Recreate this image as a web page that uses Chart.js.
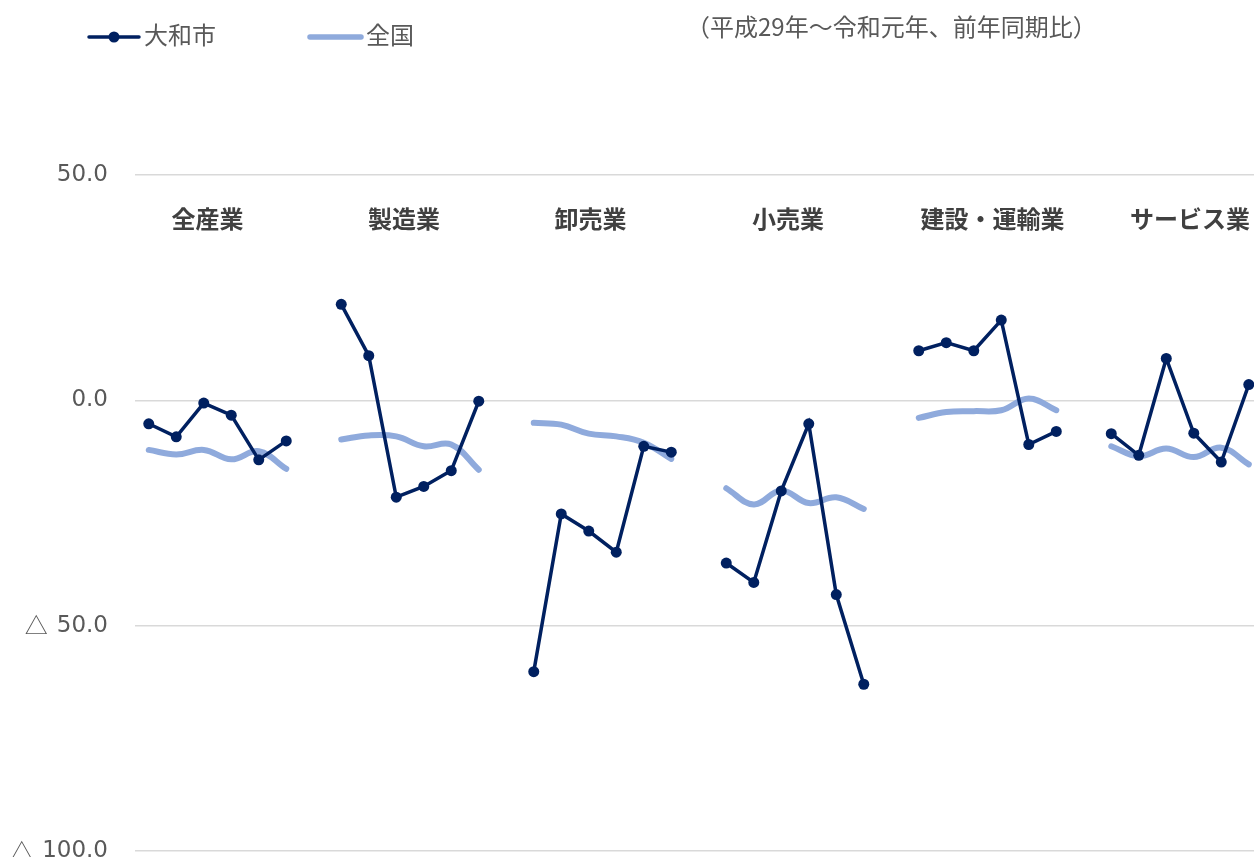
<!DOCTYPE html>
<html lang="ja">
<head>
<meta charset="utf-8">
<script src="https://cdn.jsdelivr.net/npm/chart.js@4/dist/chart.umd.min.js"></script>
<style>
    html, body { margin: 0; padding: 0; background: #fff; overflow: hidden; }
    #wrap { position: relative; width: 1254px; height: 857px; }
</style>
</head>
<body>
<div id="wrap"><canvas id="myChart"></canvas></div>
<script>
// categories
const groups = ["全産業", "製造業", "卸売業", "小売業", "建設・運輸業", "サービス業"];
const periods = ["H29上", "H29下", "H30上", "H30下", "R1上", "R1下"];

// 大和市 (per group)
const yamato = [
    [-5.2, -8.1, -0.6, -3.3, -13.2, -9.0],
    [21.3, 9.9, -21.5, -19.1, -15.6, -0.2],
    [-60.2, -25.2, -29.0, -33.7, -10.2, -11.5],
    [-36.1, -40.4, -20.1, -5.2, -43.1, -63.0],
    [11.0, 12.8, 11.0, 17.8, -9.8, -6.9],
    [-7.4, -12.2, 9.3, -7.3, -13.7, 3.5]
];

// 全国 (per group)
const zenkoku = [
    [-11.0, -12.0, -11.0, -13.1, -11.3, -15.2],
    [-8.7, -7.8, -8.0, -10.2, -9.8, -15.4],
    [-5.0, -5.4, -7.4, -8.0, -9.4, -13.0],
    [-19.5, -23.1, -20.0, -22.8, -21.5, -24.1],
    [-3.9, -2.6, -2.4, -2.2, 0.4, -2.2],
    [-10.2, -12.4, -10.7, -12.6, -10.5, -14.2]
];

// tick labels
const yTicks = [50, 0, -50, -100];

// one empty slot between groups -> x index per point
function toPoints(arr) {
    const out = [];
    arr.forEach((g, i) => {
        if (i > 0) out.push({ x: out.length, y: null });
        g.forEach(v => out.push({ x: out.length, y: v }));
    });
    return out;
}

const navy = "#002060";
const lightBlue = "#8faadc";

// group names, y labels, legend and note
const overlay = {
    id: "overlay",
    afterDraw(chart) {
        const { ctx } = chart;
        const x = chart.scales.x;
        const y = chart.scales.y;
        const labelShift = [-10, -6, -12, -7, 5, 10];
        ctx.save();
        ctx.font = 'bold 24px "Noto Sans CJK JP"';
        ctx.fillStyle = "#404040";
        ctx.textAlign = "center";
        ctx.textBaseline = "middle";
        groups.forEach((g, i) => {
            const start = i * (periods.length + 1);
            const cx = (x.getPixelForValue(start) + x.getPixelForValue(start + periods.length - 1)) / 2;
            ctx.fillText(g, cx + labelShift[i], y.getPixelForValue(40.3));
        });

        // y tick labels, negatives written with △
        ctx.fillStyle = "#595959";
        ctx.textAlign = "right";
        const right = chart.chartArea.left - 27;
        yTicks.forEach(v => {
            const py = y.getPixelForValue(v);
            const num = Math.abs(v).toFixed(1);
            ctx.font = '23px "DejaVu Sans"';
            ctx.fillText(num, right, py);
            if (v < 0) {
                const w = ctx.measureText(num).width;
                ctx.font = '23px "Noto Sans CJK JP"';
                ctx.fillText("△", right - w - 9, py);
            }
        });

        // legend
        ctx.lineCap = "round";
        ctx.strokeStyle = navy;
        ctx.lineWidth = 3.5;
        ctx.beginPath();
        ctx.moveTo(89, 37);
        ctx.lineTo(139, 37);
        ctx.stroke();
        ctx.fillStyle = navy;
        ctx.beginPath();
        ctx.arc(114, 37, 5.5, 0, Math.PI * 2);
        ctx.fill();

        ctx.strokeStyle = lightBlue;
        ctx.lineWidth = 5.5;
        ctx.beginPath();
        ctx.moveTo(310, 37);
        ctx.lineTo(361, 37);
        ctx.stroke();

        ctx.font = '24px "Noto Sans CJK JP"';
        ctx.fillStyle = "#595959";
        ctx.textAlign = "left";
        ctx.fillText("大和市", 144, 35);
        ctx.fillText("全国", 366, 35);
        ctx.fillText("（平成29年～令和元年、前年同期比）", 686, 27);
        ctx.restore();
    }
};

document.addEventListener("DOMContentLoaded", () => {
    const ctx = document.getElementById("myChart").getContext("2d");
    new Chart(ctx, {
        type: "line",
        data: {
            datasets: [
                {
                    label: "大和市",
                    data: toPoints(yamato),
                    borderColor: navy,
                    backgroundColor: navy,
                    borderWidth: 3.5,
                    pointRadius: 5.5,
                    pointBackgroundColor: navy,
                    pointBorderWidth: 0,
                    tension: 0,
                    spanGaps: false
                },
                {
                    label: "全国",
                    data: toPoints(zenkoku),
                    borderColor: lightBlue,
                    backgroundColor: lightBlue,
                    borderWidth: 6,
                    borderCapStyle: "round",
                    pointRadius: 0,
                    tension: 0.4,
                    spanGaps: false
                }
            ]
        },
        options: {
            responsive: true,
            maintainAspectRatio: false,
            animation: false,
            layout: { autoPadding: false, padding: { top: 175, bottom: 6, left: 0, right: 0 } },
            plugins: {
                legend: { display: false },
                title: { display: false },
                tooltip: { enabled: false }
            },
            scales: {
                x: {
                    type: "linear",
                    display: false,
                    min: -0.5,
                    max: 40.19
                },
                y: {
                    min: -100,
                    max: 50,
                    afterBuildTicks(scale) {
                        scale.ticks = yTicks.map(v => ({ value: v }));
                    },
                    afterFit(scale) {
                        scale.width = 135;
                        scale.paddingTop = 0;
                        scale.paddingBottom = 0;
                    },
                    border: { display: false },
                    grid: { color: "#d9d9d9", lineWidth: 1.5, drawTicks: false },
                    ticks: { display: false }
                }
            }
        },
        plugins: [overlay]
    });
});
</script>
</body>
</html>
